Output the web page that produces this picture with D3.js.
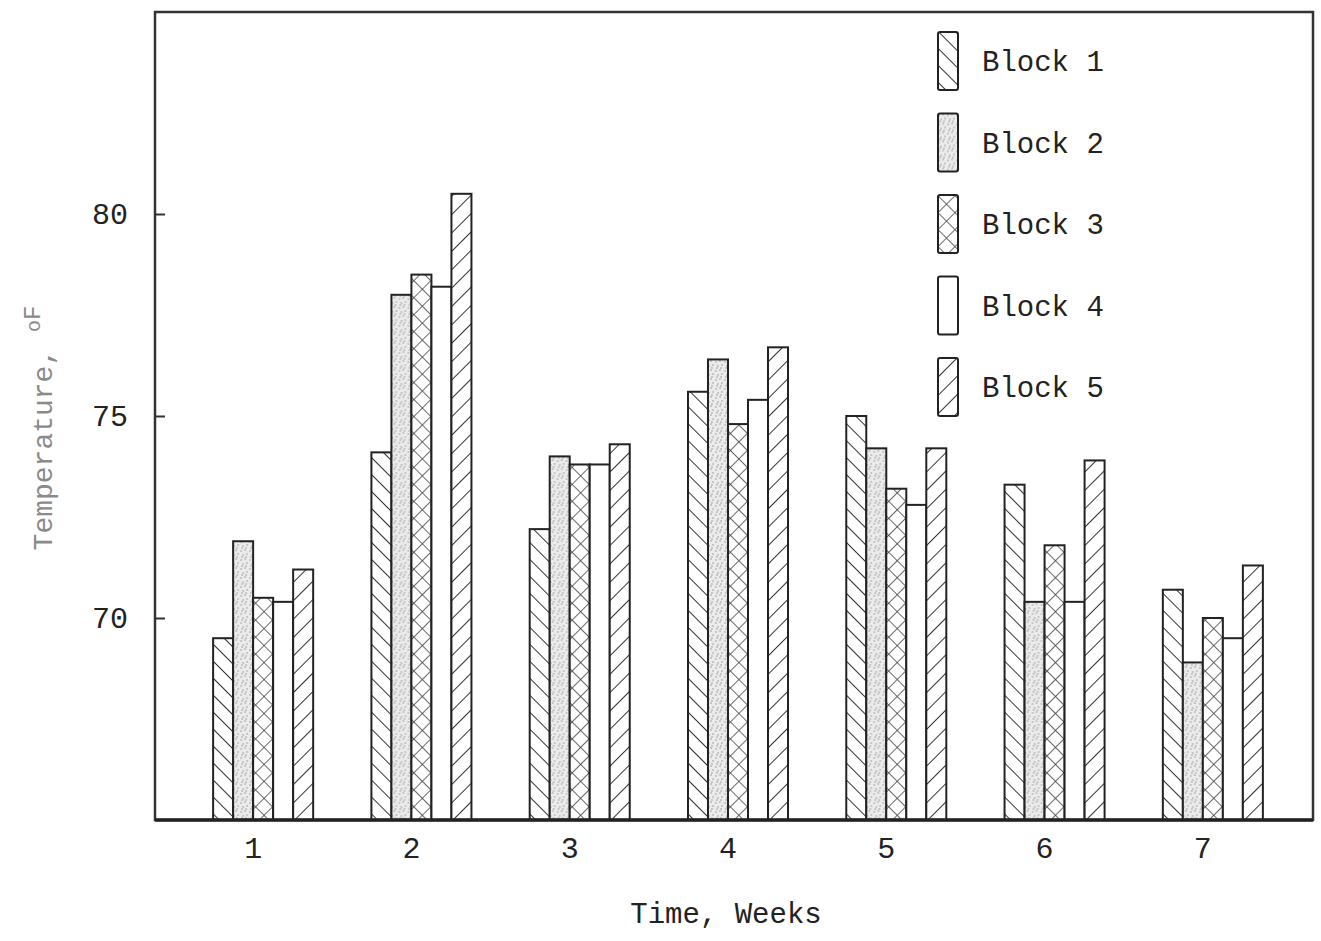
<!DOCTYPE html>
<html>
<head>
<meta charset="utf-8">
<script src="https://cdn.jsdelivr.net/npm/d3@7"></script>
<style>
  body { margin: 0; background: #fff; }
  text { font-family: "Courier New", "Liberation Mono", "DejaVu Sans Mono", monospace; fill: #222; }
</style>
</head>
<body>
<div id="chart"></div>
<script>
// weekly soil temperatures per block
const weeks = ["1", "2", "3", "4", "5", "6", "7"];
const blocks = ["Block 1", "Block 2", "Block 3", "Block 4", "Block 5"];
const block1 = [69.5, 74.1, 72.2, 75.6, 75.0, 73.3, 70.7];
const block2 = [71.9, 78.0, 74.0, 76.4, 74.2, 70.4, 68.9];
const block3 = [70.5, 78.5, 73.8, 74.8, 73.2, 71.8, 70.0];
const block4 = [70.4, 78.2, 73.8, 75.4, 72.8, 70.4, 69.5];
const block5 = [71.2, 80.5, 74.3, 76.7, 74.2, 73.9, 71.3];
const yTicks = [70, 75, 80];

const series = [block1, block2, block3, block4, block5];

const W = 1321, H = 941;
const frame = {left: 155, top: 12, right: 1313, bottom: 820};

const svg = d3.select("#chart").append("svg")
    .attr("width", W)
    .attr("height", H);

// patterns for the five blocks
const defs = svg.append("defs");

let p1 = defs.append("pattern").attr("id", "pat0")
    .attr("patternUnits", "userSpaceOnUse").attr("width", 12).attr("height", 12)
    .attr("patternTransform", "rotate(-45)");
p1.append("rect").attr("width", 12).attr("height", 12).attr("fill", "#fff");
p1.append("line").attr("x1", 0).attr("y1", 0).attr("x2", 0).attr("y2", 12)
    .attr("stroke", "#333").attr("stroke-width", 2);

let p2 = defs.append("pattern").attr("id", "pat1")
    .attr("patternUnits", "userSpaceOnUse").attr("width", 9).attr("height", 9);
p2.append("rect").attr("width", 9).attr("height", 9).attr("fill", "#ebebeb");
[[1, 2], [5, 1], [3, 6], [7, 5], [6, 8], [2, 8]].forEach(d => {
    p2.append("circle").attr("cx", d[0]).attr("cy", d[1]).attr("r", 0.8).attr("fill", "#999");
});

let p3 = defs.append("pattern").attr("id", "pat2")
    .attr("patternUnits", "userSpaceOnUse").attr("width", 12).attr("height", 12)
    .attr("patternTransform", "rotate(45)");
p3.append("rect").attr("width", 12).attr("height", 12).attr("fill", "#fff");
p3.append("line").attr("x1", 0).attr("y1", 0).attr("x2", 0).attr("y2", 12)
    .attr("stroke", "#444").attr("stroke-width", 1.6);
p3.append("line").attr("x1", 0).attr("y1", 0).attr("x2", 12).attr("y2", 0)
    .attr("stroke", "#444").attr("stroke-width", 1.6);

defs.append("pattern").attr("id", "pat3")
    .attr("patternUnits", "userSpaceOnUse").attr("width", 10).attr("height", 10)
    .append("rect").attr("width", 10).attr("height", 10).attr("fill", "#fff");

let p5 = defs.append("pattern").attr("id", "pat4")
    .attr("patternUnits", "userSpaceOnUse").attr("width", 13).attr("height", 13)
    .attr("patternTransform", "rotate(45)");
p5.append("rect").attr("width", 13).attr("height", 13).attr("fill", "#fff");
p5.append("line").attr("x1", 0).attr("y1", 0).attr("x2", 0).attr("y2", 13)
    .attr("stroke", "#333").attr("stroke-width", 2);

// scales
const x = d3.scaleBand()
    .domain(weeks)
    .range([184, 1292])
    .paddingInner(0.368)
    .paddingOuter(0.184);

const xi = d3.scaleBand()
    .domain(blocks)
    .range([0, x.bandwidth()]);

const y = d3.scaleLinear()
    .domain([65, 85])
    .range([frame.bottom, frame.top]);

// bars
const groups = svg.append("g").selectAll("g")
    .data(weeks)
    .join("g")
    .attr("transform", d => `translate(${x(d)},0)`);

groups.selectAll("rect")
    .data((w, wi) => blocks.map((b, bi) => ({block: b, i: bi, value: series[bi][wi]})))
    .join("rect")
    .attr("x", d => xi(d.block))
    .attr("y", d => y(d.value))
    .attr("width", xi.bandwidth())
    .attr("height", d => y(65) - y(d.value))
    .attr("fill", d => `url(#pat${d.i})`)
    .attr("stroke", "#222")
    .attr("stroke-width", 2);

// frame
svg.append("rect")
    .attr("x", frame.left).attr("y", frame.top)
    .attr("width", frame.right - frame.left)
    .attr("height", frame.bottom - frame.top)
    .attr("fill", "none")
    .attr("stroke", "#333")
    .attr("stroke-width", 2.5);

svg.append("line")
    .attr("x1", frame.left).attr("x2", frame.right)
    .attr("y1", frame.bottom).attr("y2", frame.bottom)
    .attr("stroke", "#222").attr("stroke-width", 3.5);

// y axis ticks (inside the frame)
const yAxis = d3.axisRight(y)
    .tickValues(yTicks)
    .tickSize(10)
    .tickFormat("");
svg.append("g")
    .attr("transform", `translate(${frame.left},0)`)
    .call(yAxis)
    .call(g => g.select(".domain").remove())
    .call(g => g.selectAll("line").attr("stroke", "#333").attr("stroke-width", 2));

svg.append("g").selectAll("text")
    .data(yTicks)
    .join("text")
    .attr("x", 128)
    .attr("y", d => y(d) + 10)
    .attr("text-anchor", "end")
    .attr("font-size", 30)
    .text(d => d);

// x tick labels
svg.append("g").selectAll("text")
    .data(weeks)
    .join("text")
    .attr("x", d => x(d) + x.bandwidth() * 0.4)
    .attr("y", 858)
    .attr("text-anchor", "middle")
    .attr("font-size", 30)
    .text(d => d);

// axis titles
svg.append("text")
    .attr("x", 726)
    .attr("y", 923)
    .attr("text-anchor", "middle")
    .attr("font-size", 29)
    .text("Time, Weeks");

const yt = svg.append("text")
    .attr("transform", "translate(52,428) rotate(-90)")
    .attr("text-anchor", "middle")
    .attr("font-size", 28)
    .style("fill", "#8a8a8a");
yt.append("tspan").text("Temperature, ");
yt.append("tspan").attr("dy", -12).attr("font-size", 20).text("o");
yt.append("tspan").attr("dy", 0).attr("font-size", 24).text("F");

// legend
const legend = svg.append("g").selectAll("g")
    .data(blocks)
    .join("g")
    .attr("transform", (d, i) => `translate(938,${32 + i * 81.5})`);

legend.append("rect")
    .attr("width", 20)
    .attr("height", 58)
    .attr("rx", 2)
    .attr("fill", (d, i) => `url(#pat${i})`)
    .attr("stroke", "#222")
    .attr("stroke-width", 2);

legend.append("text")
    .attr("x", 44)
    .attr("y", 39)
    .attr("font-size", 29)
    .text(d => d);
</script>
</body>
</html>
